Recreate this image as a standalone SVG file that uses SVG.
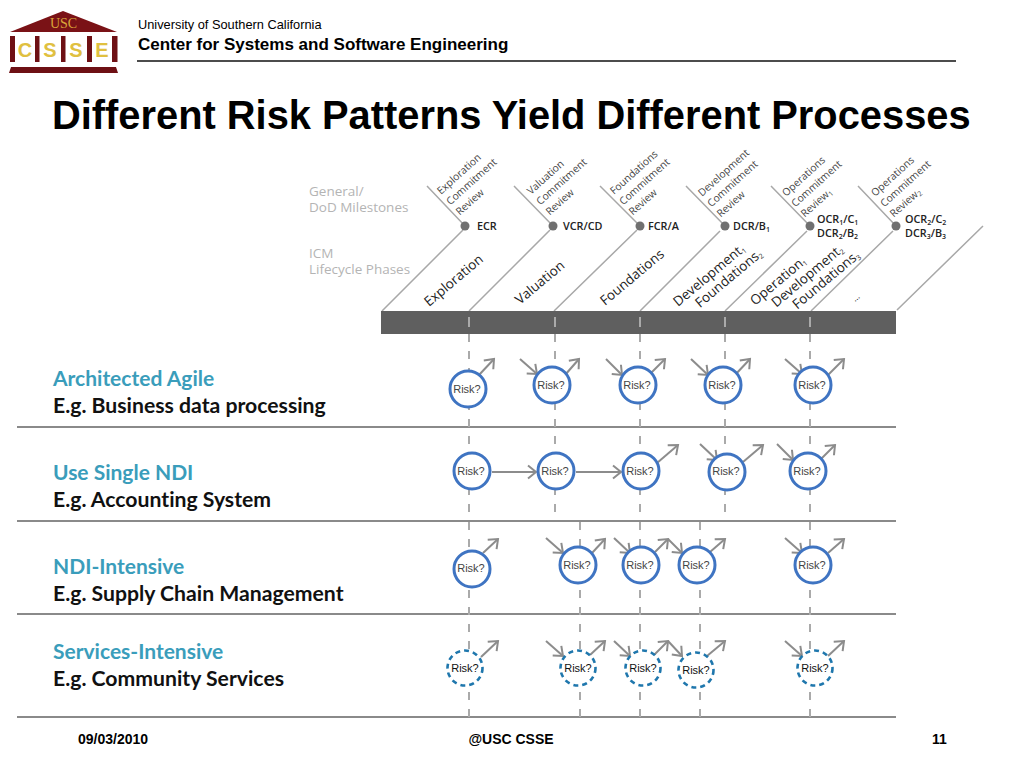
<svg xmlns="http://www.w3.org/2000/svg" width="1024" height="768" viewBox="0 0 1024 768">
<style>
.title{font:bold 39.850px "Liberation Sans",Arial,sans-serif;fill:#000}
.hdr{font-family:"Liberation Sans",Arial,sans-serif;fill:#000}
.foot{font:bold 14px "Liberation Sans",Arial,sans-serif;fill:#000}
.grey{font:13.500px "Open Sans",sans-serif;fill:#b4b4b4}
.rev{font:10.300px "Open Sans",sans-serif;fill:#444}
.ms{font:600 10.800px "Open Sans",sans-serif;fill:#222}
.ph{font:13.500px "Open Sans",sans-serif;fill:#222}
.sub{font-size:7px}
.cat{font:bold 21px Lato,sans-serif;fill:#3a9dbb;font-variant-ligatures:none}
.eg{font:bold 21.200px Lato,sans-serif;fill:#111;font-variant-ligatures:none}
.risk{fill:#fff;stroke:#3f74c2;stroke-width:3}
.risk2{fill:#fff;stroke:#1f77ad;stroke-width:2.600;stroke-dasharray:5 4}
.rt{font:11px "Liberation Sans",Arial,sans-serif;fill:#444;text-anchor:middle}
.rt2{fill:#111}
.arr{stroke:#8c8c8c;stroke-width:2;fill:none;marker-end:url(#a)}
.vd{stroke:#aaa;stroke-width:2;stroke-dasharray:8 9;fill:none}
.sep{stroke:#8a8a8a;stroke-width:2.200}
.fb{stroke:#a8a8a8;stroke-width:1.500;fill:none}
.dot{fill:#707070}
</style>
<defs>
<marker id="a" markerUnits="userSpaceOnUse" markerWidth="16" markerHeight="16" refX="12" refY="8" orient="auto">
<path d="M4 1.500L12 8L4 14.500" fill="none" stroke="#8c8c8c" stroke-width="2"/>
</marker>
</defs>
<g id="logo">
<path d="M63 11L10 32H117Z" fill="#7a1216"/>
<text x="63.500" y="28" font-family="Liberation Serif,serif" font-size="14" fill="#d9a63a" text-anchor="middle">USC</text>
<g fill="#6e1014">
<rect x="10" y="36" width="5" height="26"/><rect x="35" y="36" width="4.500" height="26"/><rect x="61" y="36" width="4.500" height="26"/><rect x="87" y="36" width="5" height="26"/><rect x="112" y="36" width="5.500" height="26"/>
<path d="M11 67H116L118 73H9Z"/>
</g>
<g font-family="Liberation Sans,sans-serif" font-weight="bold" font-size="20" fill="#e0c040" text-anchor="middle">
<text x="25" y="56.500">C</text><text x="50" y="56.500">S</text><text x="76" y="56.500">S</text><text x="102" y="56.500">E</text>
</g>
</g>
<g id="header">
<text class="hdr" x="138" y="29" font-size="12.800">University of Southern California</text>
<text class="hdr" x="138" y="50" font-size="17" font-weight="bold">Center for Systems and Software Engineering</text>
<path d="M137 61H956" stroke="#111" stroke-width="1.500"/>
<text class="title" x="52" y="129">Different Risk Patterns Yield Different Processes</text>
</g>
<g id="timeline">
<text class="grey" x="309" y="196">General/</text>
<text class="grey" x="309" y="212">DoD Milestones</text>
<text class="grey" x="309" y="258">ICM</text>
<text class="grey" x="309" y="274">Lifecycle Phases</text>
<path class="fb" d="M382 311L463 230M469 311L550 230M554 311L637 230M640 311L720 231M725 311L807 231M811 311L893 231M897 310L983 226"/>
<path class="fb" d="M427 186L465 226M514 186L553 226M600 186L640 226M686 186L725 226M771 186L810 226M858 186L896 226"/>
<rect x="381" y="311" width="515" height="23" fill="#5f5f5f"/>
<path d="M469 317V327M555 317V327M640 317V327M725 317V327M810 317V327" stroke="#c4c4c4" stroke-width="1.500"/>
<g id="milestones">
<circle class="dot" cx="465" cy="226" r="4.500"/><circle class="dot" cx="553" cy="226" r="4.500"/><circle class="dot" cx="640" cy="226" r="4.500"/><circle class="dot" cx="725" cy="226" r="4.500"/><circle class="dot" cx="810" cy="226" r="4.500"/><circle class="dot" cx="896" cy="226" r="4.500"/>
<text class="ms" x="477" y="230">ECR</text>
<text class="ms" x="563" y="230">VCR/CD</text>
<text class="ms" x="648" y="230">FCR/A</text>
<text class="ms" x="733" y="230">DCR/B<tspan class="sub" dy="2">1</tspan></text>
<text class="ms" x="817" y="223">OCR<tspan class="sub" dy="2">1</tspan><tspan dy="-2">/C</tspan><tspan class="sub" dy="2">1</tspan></text>
<text class="ms" x="817" y="237">DCR<tspan class="sub" dy="2">2</tspan><tspan dy="-2">/B</tspan><tspan class="sub" dy="2">2</tspan></text>
<text class="ms" x="905" y="223">OCR<tspan class="sub" dy="2">2</tspan><tspan dy="-2">/C</tspan><tspan class="sub" dy="2">2</tspan></text>
<text class="ms" x="905" y="237">DCR<tspan class="sub" dy="2">3</tspan><tspan dy="-2">/B</tspan><tspan class="sub" dy="2">3</tspan></text>
</g>
<g id="reviews" class="rev">
<text class="rev" transform="translate(441 195) rotate(-42)">Exploration<tspan x="0" dy="14">Commitment</tspan><tspan x="0" dy="14">Review</tspan></text>
<text class="rev" transform="translate(531 195) rotate(-42)">Valuation<tspan x="0" dy="14">Commitment</tspan><tspan x="0" dy="14">Review</tspan></text>
<text class="rev" transform="translate(614 195) rotate(-42)">Foundations<tspan x="0" dy="14">Commitment</tspan><tspan x="0" dy="14">Review</tspan></text>
<text class="rev" transform="translate(702 197) rotate(-42)">Development<tspan x="0" dy="14">Commitment</tspan><tspan x="0" dy="14">Review</tspan></text>
<text class="rev" transform="translate(786 197) rotate(-42)">Operations<tspan x="0" dy="14">Commitment</tspan><tspan x="0" dy="14">Review<tspan class="sub" dy="2">1</tspan></tspan></text>
<text class="rev" transform="translate(875 197) rotate(-42)">Operations<tspan x="0" dy="14">Commitment</tspan><tspan x="0" dy="14">Review<tspan class="sub" dy="2">2</tspan></tspan></text>
</g>
<g id="phases">
<text class="ph" transform="translate(429 307) rotate(-40)">Exploration</text>
<text class="ph" transform="translate(520 305) rotate(-40)">Valuation</text>
<text class="ph" transform="translate(605 306) rotate(-40)">Foundations</text>
<text class="ph" transform="translate(678 307) rotate(-40)">Development<tspan class="sub" dy="2">1</tspan><tspan x="16" y="15">Foundations</tspan><tspan class="sub" dy="2">2</tspan></text>
<text class="ph" transform="translate(755 306) rotate(-40)">Operation<tspan class="sub" dy="2">1</tspan><tspan x="15" y="15">Development</tspan><tspan class="sub" dy="2">2</tspan><tspan x="30" y="30">Foundations</tspan><tspan class="sub" dy="2">3</tspan></text>
<text class="ph" transform="translate(855 302) rotate(-40)" style="font-size:9px">...</text>
</g>
</g>
<g id="labels">
<text class="cat" x="53" y="386">Architected Agile</text>
<text class="eg" x="53" y="413">E.g. Business data processing</text>
<text class="cat" x="53" y="480">Use Single NDI</text>
<text class="eg" x="53" y="507">E.g. Accounting System</text>
<text class="cat" x="53" y="574">NDI-Intensive</text>
<text class="eg" x="53" y="601">E.g. Supply Chain Management</text>
<text class="cat" x="53" y="659">Services-Intensive</text>
<text class="eg" x="53" y="686">E.g. Community Services</text>
</g>
<g id="separators">
<path class="sep" d="M17 427H896M17 521H896M17 614H896M17 717H896"/>
</g>
<g id="connectors">
<path class="vd" d="M469 334V521M555 334V521M640 334V521M725 334V521M810 334V521"/>
<path class="vd" d="M469 522V717M580 522V717M640 522V717M700 522V717M810 522V717"/>
<path class="arr" d="M479 375L494 359"/><path class="arr" d="M565 375L579 359"/><path class="arr" d="M649 375L665 359"/><path class="arr" d="M735 375L750 359"/><path class="arr" d="M828 375L844 359"/>
<path class="arr" d="M520 359L537 374"/><path class="arr" d="M606 359L622 375"/><path class="arr" d="M691 359L708 375"/><path class="arr" d="M785 359L802 374"/>
<path class="arr" d="M492 472H536"/><path class="arr" d="M576 472H621"/><path class="arr" d="M657 463L678 445"/><path class="arr" d="M700 444L717 460"/><path class="arr" d="M743 462L763 445"/><path class="arr" d="M777 444L793 460"/><path class="arr" d="M821 459L835 445"/>
<path class="arr" d="M483 553L498 539"/><path class="arr" d="M546 538L563 553"/><path class="arr" d="M592 553L605 539"/><path class="arr" d="M614 538L630 553"/><path class="arr" d="M655 552L668 539"/><path class="arr" d="M668 539L682 553"/><path class="arr" d="M710 552L725 539"/><path class="arr" d="M785 538L802 553"/><path class="arr" d="M828 553L844 539"/>
<path class="arr" d="M481 657L498 641"/><path class="arr" d="M546 641L563 656"/><path class="arr" d="M590 655L605 641"/><path class="arr" d="M614 641L630 656"/><path class="arr" d="M654 655L668 641"/><path class="arr" d="M668 641L682 656"/><path class="arr" d="M707 656L725 641"/><path class="arr" d="M785 641L802 656"/><path class="arr" d="M828 656L844 641"/>
</g>
<g id="r1a"><circle class="risk" cx="468" cy="389" r="18"/><text class="rt" x="467" y="393">Risk?</text></g>
<g id="r1b"><circle class="risk" cx="552" cy="385" r="18"/><text class="rt" x="551" y="389">Risk?</text></g>
<g id="r1c"><circle class="risk" cx="638" cy="385" r="18"/><text class="rt" x="637" y="389">Risk?</text></g>
<g id="r1d"><circle class="risk" cx="723" cy="385" r="18"/><text class="rt" x="722" y="389">Risk?</text></g>
<g id="r1e"><circle class="risk" cx="813" cy="385" r="18"/><text class="rt" x="812" y="389">Risk?</text></g>
<g id="r2a"><circle class="risk" cx="472" cy="471" r="18"/><text class="rt" x="471" y="475">Risk?</text></g>
<g id="r2b"><circle class="risk" cx="556" cy="471" r="18"/><text class="rt" x="555" y="475">Risk?</text></g>
<g id="r2c"><circle class="risk" cx="641" cy="471" r="18"/><text class="rt" x="640" y="475">Risk?</text></g>
<g id="r2d"><circle class="risk" cx="727" cy="472" r="18"/><text class="rt" x="726" y="475">Risk?</text></g>
<g id="r2e"><circle class="risk" cx="808" cy="471" r="18"/><text class="rt" x="807" y="475">Risk?</text></g>
<g id="r3a"><circle class="risk" cx="472" cy="569" r="18"/><text class="rt" x="471" y="572">Risk?</text></g>
<g id="r3b"><circle class="risk" cx="578" cy="565" r="18"/><text class="rt" x="577" y="569">Risk?</text></g>
<g id="r3c"><circle class="risk" cx="641" cy="565" r="18"/><text class="rt" x="640" y="569">Risk?</text></g>
<g id="r3d"><circle class="risk" cx="697" cy="565" r="18"/><text class="rt" x="696" y="569">Risk?</text></g>
<g id="r3e"><circle class="risk" cx="813" cy="565" r="18"/><text class="rt" x="812" y="569">Risk?</text></g>
<g id="r4a"><circle class="risk2" cx="465" cy="668" r="17.500"/><text class="rt rt2" x="465" y="672">Risk?</text></g>
<g id="r4b"><circle class="risk2" cx="578" cy="668" r="17.500"/><text class="rt rt2" x="578" y="672">Risk?</text></g>
<g id="r4c"><circle class="risk2" cx="643" cy="668" r="17.500"/><text class="rt rt2" x="643" y="672">Risk?</text></g>
<g id="r4d"><circle class="risk2" cx="696" cy="670" r="17.500"/><text class="rt rt2" x="696" y="674">Risk?</text></g>
<g id="r4e"><circle class="risk2" cx="815" cy="668" r="17.500"/><text class="rt rt2" x="815" y="672">Risk?</text></g>
<g id="footer">
<text class="foot" x="78" y="744">09/03/2010</text>
<text class="foot" x="511" y="744" text-anchor="middle">@USC CSSE</text>
<text class="foot" x="932" y="744">11</text>
</g>
</svg>
